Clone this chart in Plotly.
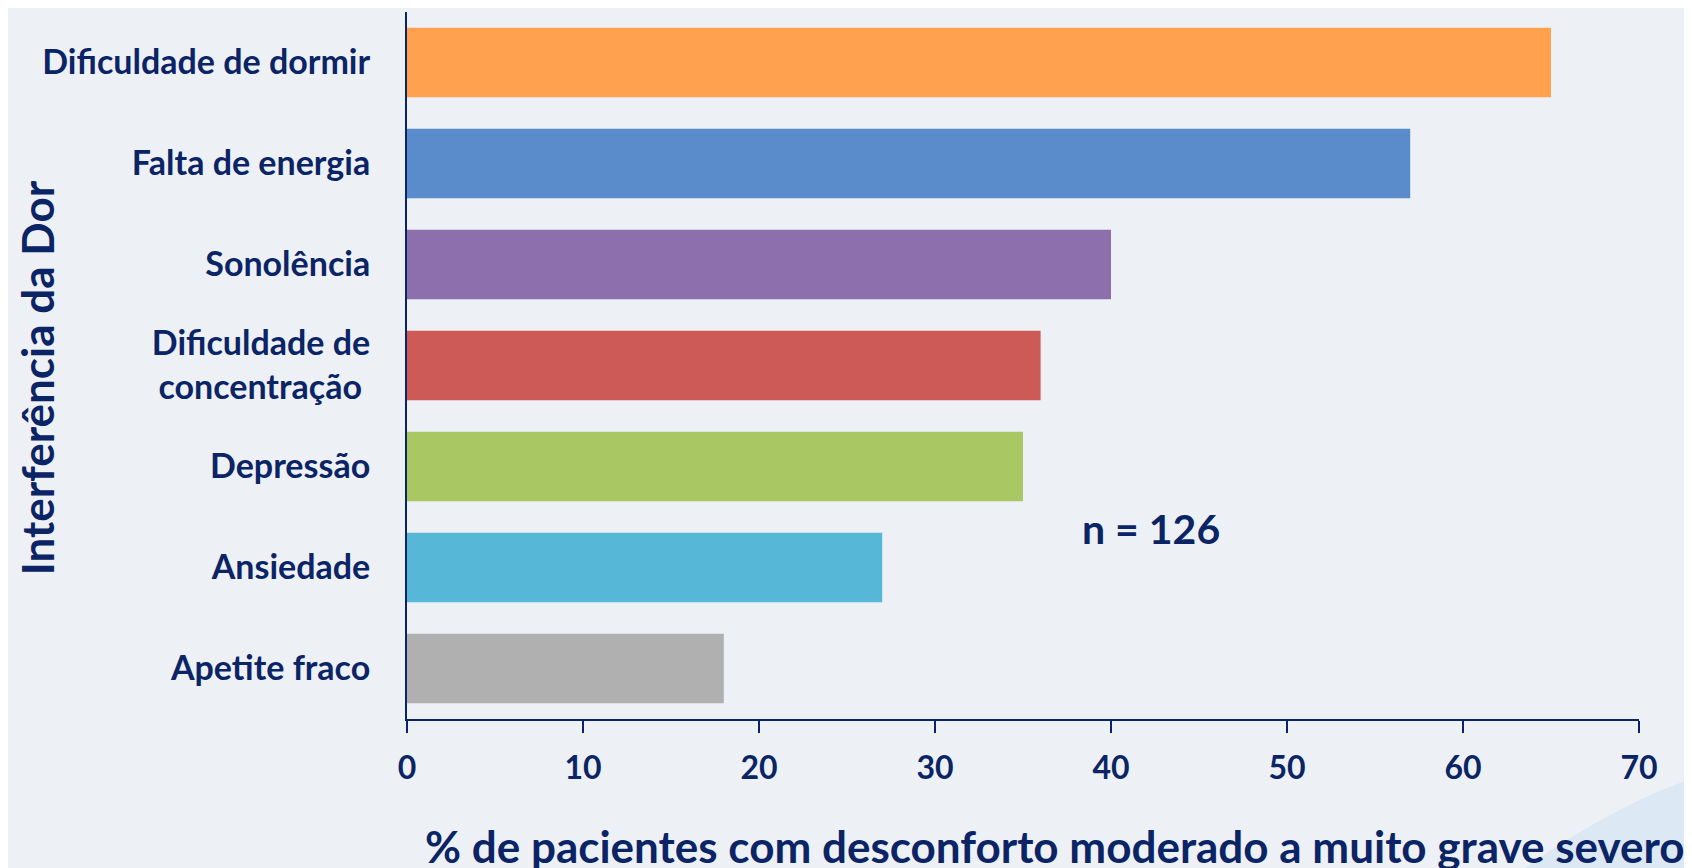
import plotly.graph_objects as go

categories = ["Dificuldade de dormir", "Falta de energia", "Sonolência",
              "Dificuldade de<br>concentração ", "Depressão", "Ansiedade", "Apetite fraco"]
values = [65, 57, 40, 36, 35, 27, 18]
colors = ["#FFA14F", "#5A8BCB", "#8D6FAD", "#CD5A57", "#A9C863", "#56B8D6", "#B0B0B0"]
x_ticks = [0, 10, 20, 30, 40, 50, 60, 70]

NAVY = "#0B2465"
FONT = "Lato"

fig = go.Figure()
fig.add_trace(go.Bar(
    x=values, y=categories, orientation="h",
    marker=dict(color=colors, line=dict(width=0)),
    hoverinfo="x+y", showlegend=False,
))

fig.update_layout(
    width=1684, height=860,
    margin=dict(l=399, r=53, t=4, b=149),
    paper_bgcolor="#EDF1F6", plot_bgcolor="rgba(0,0,0,0)",
    bargap=0.31,
    font=dict(family=FONT, color=NAVY, weight="bold"),
    xaxis=dict(range=[0, 70], tickvals=x_ticks, showgrid=False, zeroline=False,
               showline=True, linecolor=NAVY, linewidth=2,
               ticks="outside", ticklen=12, tickwidth=2, tickcolor=NAVY,
               tickfont=dict(family=FONT, size=32, color=NAVY, weight="bold"),
               ticklabelstandoff=8),
    yaxis=dict(autorange="reversed", showgrid=False, zeroline=False,
               showline=True, linecolor=NAVY, linewidth=2, ticks="",
               tickfont=dict(family=FONT, size=34, color=NAVY, weight="bold"),
               ticklabelstandoff=28),
    annotations=[
        dict(text="% de pacientes com desconforto moderado a muito grave severo",
             xref="paper", yref="paper", x=0.526, y=-0.18,
             xanchor="center", yanchor="middle", showarrow=False,
             font=dict(family=FONT, size=44, color=NAVY, weight="bold")),
        dict(text="Interferência da Dor", textangle=-90,
             xref="paper", yref="paper", x=-0.3003, y=0.482,
             xanchor="center", yanchor="middle", showarrow=False,
             font=dict(family=FONT, size=44, color=NAVY, weight="bold")),
        dict(text="n = 126", xref="x", yref="paper", x=42.3, y=0.27,
             xanchor="center", yanchor="middle", showarrow=False,
             font=dict(family=FONT, size=41, color=NAVY, weight="bold")),
    ],
    shapes=[
        dict(type="path", xref="paper", yref="paper", layer="below",
             path="M 0.90 -0.22 Q 0.98 -0.12 1.05 -0.08 L 1.05 -0.22 Z",
             fillcolor="#DCE8F4", line=dict(width=0)),
    ],
)

fig.write_html("out.html")
